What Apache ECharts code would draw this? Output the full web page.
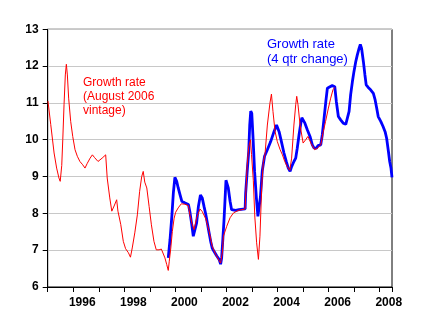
<!DOCTYPE html>
<html>
<head>
<meta charset="utf-8">
<script src="https://cdn.jsdelivr.net/npm/echarts@6/dist/echarts.min.js"></script>
<style>
  html, body { margin: 0; padding: 0; background: #fff; }
  #chart { width: 429px; height: 332px; }
</style>
</head>
<body>
<div id="chart"></div>
<script>
// Growth rate, August 2006 vintage (monthly, decimal-year dates)
const vintageDates = [
  1995.01, 1995.12, 1995.25, 1995.35, 1995.44, 1995.49, 1995.55, 1995.59, 1995.64, 1995.69,
  1995.73, 1995.77, 1995.82, 1995.90, 1995.98, 1996.07, 1996.16, 1996.26, 1996.37, 1996.46,
  1996.55, 1996.66, 1996.75, 1996.83, 1996.97, 1997.13, 1997.27, 1997.33, 1997.43, 1997.51,
  1997.60, 1997.70, 1997.75, 1997.86, 1997.96, 1998.05, 1998.16, 1998.24, 1998.31, 1998.41,
  1998.51, 1998.60, 1998.68, 1998.74, 1998.80, 1998.88, 1998.97, 1999.06, 1999.16, 1999.25,
  1999.36, 1999.45, 1999.51, 1999.59, 1999.66, 1999.72, 1999.76, 1999.82, 1999.88, 1999.95,
  2000.01, 2000.11, 2000.23, 2000.36, 2000.51, 2000.57, 2000.66, 2000.73, 2000.83, 2000.96,
  2001.05, 2001.19, 2001.32, 2001.44, 2001.58, 2001.71, 2001.77, 2001.84, 2001.88, 2002.01,
  2002.14, 2002.27, 2002.46, 2002.73, 2002.76, 2002.81, 2002.87, 2002.94, 2002.98, 2003.05,
  2003.11, 2003.18, 2003.25, 2003.31, 2003.38, 2003.44, 2003.51, 2003.60, 2003.70, 2003.76,
  2003.82, 2003.90, 2003.99, 2004.10, 2004.19, 2004.28, 2004.38, 2004.48, 2004.55, 2004.64,
  2004.71, 2004.75, 2004.80, 2004.88, 2005.00, 2005.10, 2005.19, 2005.31, 2005.45, 2005.56,
  2005.69, 2005.79, 2005.88, 2005.99, 2006.08, 2006.17, 2006.24
];
const vintageValues = [
  11.05, 10.41, 9.64, 9.23, 8.96, 8.87, 9.3, 10.0, 10.95, 11.76,
  12.05, 11.76, 11.13, 10.5, 10.09, 9.73, 9.55, 9.41, 9.32, 9.23,
  9.36, 9.5, 9.59, 9.52, 9.41, 9.5, 9.59, 8.96, 8.42, 8.06,
  8.2, 8.37, 8.06, 7.7, 7.24, 7.04, 6.93, 6.81, 7.06, 7.47,
  7.96, 8.6, 9.0, 9.14, 8.85, 8.69, 8.19, 7.69, 7.24, 7.01,
  7.01, 7.03, 7.01, 6.79, 6.61, 6.45, 6.7, 7.06, 7.51, 7.87,
  8.03, 8.15, 8.26, 8.25, 8.21, 7.95, 7.7, 7.56, 7.87, 8.12,
  8.05, 7.85, 7.51, 7.11, 6.88, 6.72, 6.65, 6.95, 7.38, 7.65,
  7.88, 8.01, 8.08, 8.12, 8.6, 9.3, 9.8, 10.0, 9.6, 8.9,
  7.9, 7.2, 6.75, 7.38, 8.74, 9.38, 9.62, 10.4, 10.99, 11.24,
  10.77, 10.23, 9.95, 9.73, 9.59, 9.41, 9.27, 9.17, 9.5, 10.4,
  10.95, 11.18, 10.95, 10.4, 9.91, 10.0, 10.09, 9.9, 9.73, 9.77,
  9.86, 10.22, 10.5, 10.86, 11.13, 11.36, 11.42
];

// Growth rate, 4 quarter change
const fourQtrDates = [
  1999.72, 1999.79, 1999.86, 1999.92, 1999.98, 2000.05, 2000.11, 2000.18, 2000.25, 2000.38,
  2000.51, 2000.57, 2000.64, 2000.70, 2000.77, 2000.83, 2000.90, 2000.98, 2001.05, 2001.12,
  2001.19, 2001.25, 2001.32, 2001.38, 2001.44, 2001.51, 2001.62, 2001.71, 2001.77, 2001.81,
  2001.86, 2001.90, 2001.94, 2001.98, 2002.03, 2002.07, 2002.14, 2002.20, 2002.27, 2002.36,
  2002.49, 2002.73, 2002.75, 2002.81, 2002.87, 2002.91, 2002.95, 2002.99, 2003.04, 2003.10,
  2003.17, 2003.23, 2003.29, 2003.33, 2003.40, 2003.49, 2003.60, 2003.73, 2003.86, 2003.96,
  2004.00, 2004.06, 2004.15, 2004.25, 2004.34, 2004.42, 2004.49, 2004.55, 2004.64, 2004.71,
  2004.77, 2004.84, 2004.91, 2004.95, 2005.01, 2005.07, 2005.16, 2005.27, 2005.36, 2005.43,
  2005.52, 2005.58, 2005.69, 2005.75, 2005.82, 2005.89, 2005.95, 2006.05, 2006.14, 2006.24,
  2006.30, 2006.38, 2006.47, 2006.57, 2006.67, 2006.73, 2006.80, 2006.86, 2006.93, 2006.99,
  2007.06, 2007.12, 2007.19, 2007.24, 2007.29, 2007.36, 2007.42, 2007.47, 2007.55, 2007.65,
  2007.75, 2007.82, 2007.88, 2007.94, 2008.04, 2008.13, 2008.21, 2008.27, 2008.34, 2008.39,
  2008.44, 2008.48
];
const fourQtrValues = [
  6.79, 7.29, 7.92, 8.56, 8.98, 8.87, 8.69, 8.51, 8.33, 8.28,
  8.24, 8.03, 7.7, 7.38, 7.36, 7.74, 8.19, 8.5, 8.42, 8.19,
  7.97, 7.74, 7.47, 7.24, 7.06, 6.97, 6.84, 6.75, 6.62, 6.79,
  7.33, 7.78, 8.33, 8.9, 8.87, 8.69, 8.33, 8.1, 8.05, 8.08,
  8.1, 8.12, 8.55, 9.14, 9.68, 10.4, 10.78, 10.72, 10.05, 9.14,
  8.42, 7.92, 7.95, 8.45, 9.15, 9.55, 9.73, 9.95, 10.22, 10.4,
  10.4, 10.22, 9.95, 9.64, 9.41, 9.23, 9.14, 9.27, 9.41, 9.5,
  9.77, 10.13, 10.45, 10.6, 10.57, 10.45, 10.28, 10.09, 9.86, 9.77,
  9.77, 9.84, 9.86, 10.13, 10.58, 11.04, 11.4, 11.44, 11.47, 11.44,
  11.04, 10.63, 10.54, 10.45, 10.42, 10.4, 10.77, 11.22, 11.58, 11.85,
  12.12, 12.3, 12.48, 12.59, 12.48, 12.12, 11.76, 11.49, 11.42, 11.35,
  11.26, 11.08, 10.86, 10.63, 10.5, 10.36, 10.22, 10.04, 9.68, 9.41,
  9.23, 8.98
];

// Axis ranges and labels
const yearStart = 1995;
const yearEnd = 2008.48;
const labelledYears = [1996, 1998, 2000, 2002, 2004, 2006, 2008];
const yMin = 6, yMax = 13;

const vintageLabel = 'Growth rate\n(August 2006\nvintage)';
const fourQtrLabel = 'Growth rate\n(4 qtr change)';

const pairs = (xs, ys) => xs.map((x, i) => [x, ys[i]]);
const FONT = '"Liberation Sans", Arial, sans-serif';

const chart = echarts.init(document.getElementById('chart'), null, { renderer: 'canvas' });
chart.setOption({
  animation: false,
  backgroundColor: '#ffffff',
  grid: {
    left: 47.7, right: 37, top: 29.3, bottom: 45,
    show: true, borderColor: '#000', borderWidth: 1, backgroundColor: 'transparent'
  },
  xAxis: {
    type: 'value',
    min: yearStart, max: yearEnd, interval: 1,
    axisLine: { show: true, lineStyle: { color: '#000', width: 1 } },
    axisTick: { show: true, inside: false, length: 5, lineStyle: { color: '#000' } },
    splitLine: { show: false },
    axisLabel: {
      color: '#000', fontFamily: FONT, fontWeight: 'bold', fontSize: 12,
      margin: 10, padding: [0, 0, 0, 18],
      formatter: v => labelledYears.includes(v) ? String(v) : ''
    }
  },
  yAxis: {
    type: 'value',
    min: yMin, max: yMax, interval: 1,
    axisLine: { show: true, lineStyle: { color: '#000', width: 1 } },
    axisTick: { show: true, inside: false, length: 5, lineStyle: { color: '#000' } },
    splitLine: { show: true, lineStyle: { color: '#c8c8c8', width: 1 } },
    axisLabel: {
      color: '#000', fontFamily: FONT, fontWeight: 'bold', fontSize: 12, margin: 9
    }
  },
  series: [
    {
      name: '4 qtr change',
      type: 'line',
      data: pairs(fourQtrDates, fourQtrValues),
      showSymbol: false, symbol: 'none',
      lineStyle: { color: '#0000ff', width: 2.8 },
      z: 2
    },
    {
      name: 'August 2006 vintage',
      type: 'line',
      data: pairs(vintageDates, vintageValues),
      showSymbol: false, symbol: 'none',
      lineStyle: { color: '#ff0000', width: 1 },
      z: 3
    }
  ],
  graphic: [
    {
      type: 'text', left: 83, top: 75.5, z: 10,
      style: { text: vintageLabel, font: '12px ' + FONT, fill: '#ff0000', lineHeight: 14 }
    },
    {
      type: 'text', left: 267, top: 37, z: 10,
      style: { text: fourQtrLabel, font: '13px ' + FONT, fill: '#0000ff', lineHeight: 14.7 }
    }
  ]
});
</script>
</body>
</html>
